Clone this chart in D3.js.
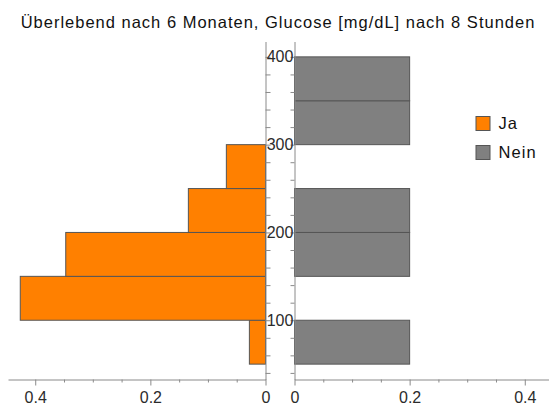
<!DOCTYPE html>
<html>
<head>
<meta charset="utf-8">
<script src="https://cdn.jsdelivr.net/npm/d3@7"></script>
<style>
  html, body { margin: 0; padding: 0; background: #fff; }
  svg { display: block; font-family: "Liberation Sans", Arial, sans-serif; }
</style>
</head>
<body>
<svg id="chart" width="549" height="407"></svg>
<script>
// Glucose bins (lower edge, mg/dL); each bin spans 50 mg/dL
const binStart = [50, 100, 150, 200, 250, 300, 350];
const binWidth = 50;
// Share of patients per bin, survivors ("Ja") and non-survivors ("Nein")
const jaShare   = [0.028, 0.426, 0.347, 0.134, 0.068, 0, 0];
const neinShare = [0.2, 0, 0.2, 0.2, 0, 0.2, 0.2];
const groups = ["Ja", "Nein"];
const groupColors = ["#ff8000", "#808080"];
const yLabelTicks = [100, 200, 300, 400];
const titleText = "Überlebend nach 6 Monaten, Glucose [mg/dL] nach 8 Stunden";

const svg = d3.select("#chart");
const axisColor = "#8a8a8a";
const textColor = "#2b2b2b";
const barStroke = "#555";

const xMax = d3.max(jaShare.concat(neinShare)) * 1.05;
const pad = binWidth * 0.35;
const y = d3.scaleLinear()
  .domain([d3.min(binStart) - pad, d3.max(binStart) + binWidth + pad])
  .range([379.5, 41.5]);
const xL = d3.scaleLinear().domain([0, xMax]).range([265.5, 8]);
const xR = d3.scaleLinear().domain([0, xMax]).range([294.5, 552]);

const rows = binStart.map((b, i) => ({ b, ja: jaShare[i], nein: neinShare[i] }));

// Left panel: survivors, bars grow leftwards
svg.append("g").selectAll("rect")
  .data(rows.filter(d => d.ja > 0))
  .join("rect")
  .attr("x", d => xL(d.ja))
  .attr("width", d => xL(0) - xL(d.ja))
  .attr("y", d => y(d.b + binWidth))
  .attr("height", d => y(d.b) - y(d.b + binWidth))
  .attr("fill", groupColors[0])
  .attr("stroke", barStroke)
  .attr("stroke-width", 1);

// Right panel: non-survivors, bars grow rightwards
svg.append("g").selectAll("rect")
  .data(rows.filter(d => d.nein > 0))
  .join("rect")
  .attr("x", xR(0))
  .attr("width", d => xR(d.nein) - xR(0))
  .attr("y", d => y(d.b + binWidth))
  .attr("height", d => y(d.b) - y(d.b + binWidth))
  .attr("fill", groupColors[1])
  .attr("stroke", barStroke)
  .attr("stroke-width", 1);

// Horizontal share axes
const shareTicks = d3.range(0, 9).map(i => i * 0.05).filter(v => v <= xMax);
const isMajor = v => Math.abs(v / 0.2 - Math.round(v / 0.2)) < 1e-6;
const fmt = v => isMajor(v) ? d3.format("~g")(+v.toFixed(2)) : "";

function styleAxis(g) {
  g.select(".domain").attr("stroke", axisColor);
  g.selectAll(".tick line").attr("stroke", axisColor);
  g.selectAll(".tick text").attr("fill", textColor).style("font-size", "16px");
}

[xL, xR].forEach(sc => {
  const g = svg.append("g")
    .attr("transform", "translate(0,379.5)")
    .call(d3.axisBottom(sc).tickValues(shareTicks).tickFormat(fmt)
      .tickSizeInner(3).tickSizeOuter(0))
    .call(styleAxis);
  g.selectAll(".tick line").attr("y2", d => isMajor(d) ? 6 : 3);
  g.selectAll(".tick text").attr("y", 12).attr("dy", "0.71em");
  g.attr("font-family", null);
});

// Vertical glucose axes
const glucoseTicks = d3.range(40, 401, 20);
svg.append("g")
  .attr("transform", `translate(${xL(0)},0)`)
  .call(d3.axisRight(y).tickValues(glucoseTicks).tickFormat("").tickSizeInner(5).tickSizeOuter(0))
  .call(styleAxis);
svg.append("g")
  .attr("transform", `translate(${xR(0)},0)`)
  .call(d3.axisLeft(y).tickValues(glucoseTicks).tickFormat("").tickSizeInner(4).tickSizeOuter(0))
  .call(styleAxis);

// Glucose labels sit between the two panels
svg.append("g").selectAll("text")
  .data(yLabelTicks)
  .join("text")
  .attr("x", (xL(0) + xR(0)) / 2)
  .attr("y", d => y(d))
  .attr("dy", "0.35em")
  .attr("text-anchor", "middle")
  .attr("fill", textColor)
  .style("font-size", "16px")
  .text(d => d);

// Title
svg.append("text")
  .attr("x", 278)
  .attr("y", 28)
  .attr("text-anchor", "middle")
  .attr("fill", "#111")
  .style("font-size", "16.5px")
  .style("letter-spacing", "1px")
  .text(titleText);

// Legend
const legend = svg.append("g").attr("transform", "translate(476,116.5)");
const item = legend.selectAll("g")
  .data(groups)
  .join("g")
  .attr("transform", (d, i) => `translate(0,${i * 29})`);
item.append("rect")
  .attr("width", 14).attr("height", 14)
  .attr("fill", (d, i) => groupColors[i])
  .attr("stroke", barStroke)
  .attr("stroke-width", 1);
item.append("text")
  .attr("x", 22.5)
  .attr("y", 12.5)
  .attr("fill", "#111")
  .style("font-size", "16.5px")
  .style("letter-spacing", "1.1px")
  .text(d => d);
</script>
</body>
</html>
